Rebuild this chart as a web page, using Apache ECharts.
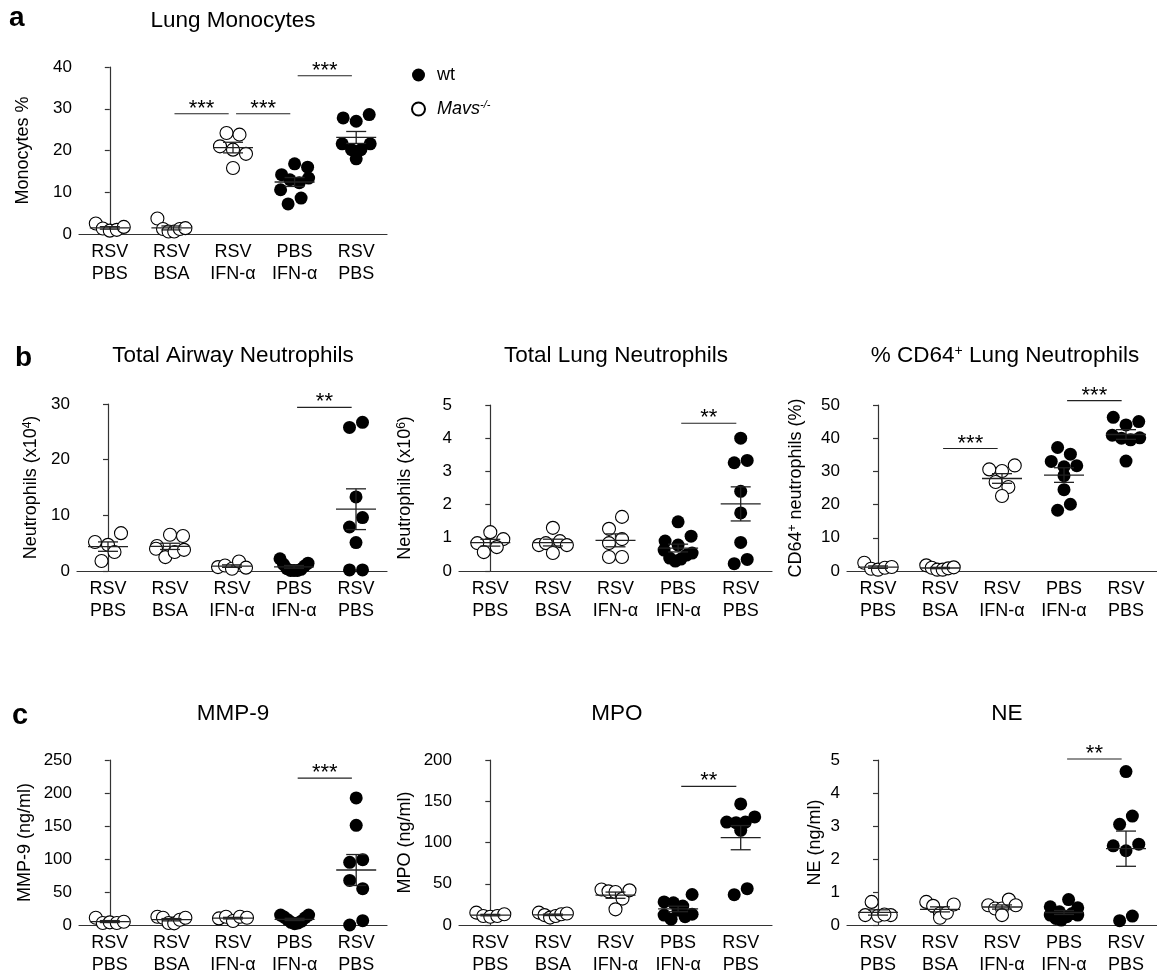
<!DOCTYPE html>
<html>
<head>
<meta charset="utf-8">
<title>Monocytes and neutrophils</title>
<script src="https://cdn.jsdelivr.net/npm/echarts@6/dist/echarts.min.js"></script>
<style>
  html, body { margin: 0; padding: 0; background: #fff; }
  #main { width: 1157px; height: 976px; }
</style>
</head>
<body>
<div id="main"></div>
<script>
// groups on the x axis (same five in every panel)
var categories = ['RSV\nPBS', 'RSV\nBSA', 'RSV\nIFN-α', 'PBS\nIFN-α', 'RSV\nPBS'];
var isWt = [false, false, false, true, true];

// values, one array per group
var lungMonocytes = [
  [2.5, 1.3, 0.8, 1.0, 1.7],
  [3.7, 1.2, 0.6, 0.6, 1.2, 1.4],
  [24.2, 23.8, 21.0, 20.2, 19.2, 15.8],
  [14.2, 16.8, 16.0, 10.6, 13.0, 12.3, 13.4, 7.2, 8.6],
  [27.8, 27.0, 28.6, 21.6, 20.2, 20.2, 21.6, 18.0]
];
var airwayNeutrophils = [
  [5.2, 4.7, 6.8, 1.8, 3.4],
  [4.5, 6.5, 6.3, 4.0, 2.5, 3.4, 3.8],
  [0.7, 1.0, 0.4, 1.7, 0.6],
  [2.2, 1.2, 0.4, 0.1, 0.1, 0.1, 0.3, 0.9, 1.4],
  [25.8, 26.7, 13.3, 7.9, 9.6, 5.1, 0.2, 0.2]
];
var lungNeutrophils = [
  [0.84, 1.17, 0.96, 0.57, 0.72],
  [1.3, 0.78, 0.84, 0.54, 0.9, 0.78],
  [1.27, 1.63, 0.84, 0.96, 0.42, 0.42],
  [1.48, 0.9, 0.78, 1.05, 0.63, 0.39, 0.3, 0.36, 0.48, 0.54],
  [4.0, 3.26, 3.33, 2.4, 1.75, 0.86, 0.22, 0.35]
];
var cd64Neutrophils = [
  [2.5, 0.7, 0.4, 1.0, 1.2],
  [1.7, 1.0, 0.4, 0.4, 0.8, 1.1],
  [30.6, 30.1, 31.8, 26.8, 25.3, 22.6],
  [37.2, 35.2, 33.0, 31.4, 31.7, 28.7, 24.5, 18.3, 20.1],
  [46.3, 44.0, 45.0, 40.9, 40.0, 39.5, 40.1, 33.1]
];
var mmp9 = [
  [11, 3, 4, 3, 5],
  [12.5, 11, 3, 2.5, 8, 11],
  [10, 12.5, 6, 12.5, 11],
  [15, 12, 8, 4, 2, 3, 6, 11, 15],
  [192.5, 151, 95, 99, 67.5, 55, 0, 6.5]
];
var mpo = [
  [15, 11, 10, 11, 13],
  [15, 12, 9, 11, 13, 14],
  [43, 40.8, 40, 32, 42, 19],
  [28, 27, 23, 37, 12, 7, 18, 10, 13],
  [146.8, 124.8, 124, 124.8, 131, 114.8, 36.8, 44]
];
var ne = [
  [0.7, 0.3, 0.28, 0.3, 0.32],
  [0.7, 0.58, 0.35, 0.22, 0.37, 0.62],
  [0.6, 0.5, 0.5, 0.77, 0.6, 0.3],
  [0.55, 0.4, 0.77, 0.52, 0.3, 0.2, 0.15, 0.25, 0.35, 0.3],
  [4.65, 3.05, 3.3, 2.4, 2.25, 2.45, 0.13, 0.27]
];

// significance bars: [from group, to group, height], and their stars
var monocytesSig = [[1, 2, 28.8], [2, 3, 28.8], [3, 4, 37.9]];
var monocytesStars = ['***', '***', '***'];
var airwaySig = [[3, 4, 29.4]];
var airwayStars = ['**'];
var lungSig = [[3, 4, 4.45]];
var lungStars = ['**'];
var cd64Sig = [[1, 2, 36.9], [3, 4, 51.3]];
var cd64Stars = ['***', '***'];
var mmp9Sig = [[3, 4, 222.5]];
var mmp9Stars = ['***'];
var mpoSig = [[3, 4, 168]];
var mpoStars = ['**'];
var neSig = [[3, 4, 5.03]];
var neStars = ['**'];

var FONT = "'Liberation Sans', Arial, Helvetica, sans-serif";
var axisLine = { color: '#333', width: 1.2 };
var supRich = { sup: { fontSize: 12, verticalAlign: 'top', fontFamily: FONT, color: '#000' } };

var panels = [
  { title: 'Lung Monocytes', tx: 233, ty: 20.5, yName: 'Monocytes %', nameGap: 47, max: 40, step: 10,
    data: lungMonocytes, sig: monocytesSig, stars: monocytesStars, grid: { left: 79, top: 67, width: 308, height: 167 } },
  { title: 'Total Airway Neutrophils', tx: 233, ty: 356, yName: 'Neutrophils (x10{sup|4})', nameGap: 37, max: 30, step: 10,
    data: airwayNeutrophils, sig: airwaySig, stars: airwayStars, grid: { left: 77, top: 404, width: 310, height: 167 } },
  { title: 'Total Lung Neutrophils', tx: 616, ty: 356, yName: 'Neutrophils (x10{sup|6})', nameGap: 45, max: 5, step: 1,
    data: lungNeutrophils, sig: lungSig, stars: lungStars, grid: { left: 459, top: 405, width: 313, height: 166 } },
  { title: '% CD64{sup|+} Lung Neutrophils', tx: 1005, ty: 356, yName: 'CD64{sup|+} neutrophils (%)', nameGap: 42, max: 50, step: 10,
    data: cd64Neutrophils, sig: cd64Sig, stars: cd64Stars, grid: { left: 847, top: 405, width: 316, height: 166 } },
  { title: 'MMP-9', tx: 233, ty: 714, yName: 'MMP-9 (ng/ml)', nameGap: 45, max: 250, step: 50,
    data: mmp9, sig: mmp9Sig, stars: mmp9Stars, grid: { left: 79, top: 760, width: 308, height: 167 } },
  { title: 'MPO', tx: 617, ty: 714, yName: 'MPO (ng/ml)', nameGap: 45, max: 200, step: 50,
    data: mpo, sig: mpoSig, stars: mpoStars, grid: { left: 459, top: 760, width: 313, height: 167 } },
  { title: 'NE', tx: 1007, ty: 714, yName: 'NE (ng/ml)', nameGap: 23, max: 5, step: 1,
    data: ne, sig: neSig, stars: neStars, grid: { left: 847, top: 760, width: 316, height: 167 } }
];

// Prism-like horizontal spreading of dots that sit at similar heights
var DOT = 13, ROW_PX = 13, HALF = 14;
function spread(values, pxPerUnit) {
  var idx = values.map(function (v, i) { return i; });
  idx.sort(function (a, b) { return values[b] - values[a] || a - b; });
  var rows = [];
  idx.forEach(function (i) {
    var row = rows[rows.length - 1];
    if (!row || (values[row[0]] - values[i]) * pxPerUnit > ROW_PX) rows.push([i]);
    else row.push(i);
  });
  var off = [];
  rows.forEach(function (row) {
    var members = row.slice().sort(function (a, b) { return a - b; });
    var n = members.length;
    var step = n > 1 ? Math.min(DOT, 2 * HALF / (n - 1)) : 0;
    members.forEach(function (i, k) { off[i] = (k - (n - 1) / 2) * step; });
  });
  return off;
}

function meanSem(vals) {
  var n = vals.length, s = 0, ss = 0;
  vals.forEach(function (v) { s += v; });
  var m = s / n;
  vals.forEach(function (v) { ss += (v - m) * (v - m); });
  return [m, Math.sqrt(ss / (n - 1)) / Math.sqrt(n)];
}

function renderMean(params, api) {
  var c = api.coord([api.value(0), api.value(1)]);
  var t = api.coord([api.value(0), api.value(1) + api.value(2)]);
  var b = api.coord([api.value(0), api.value(1) - api.value(2)]);
  var st = { stroke: '#222', lineWidth: 1.3 };
  return {
    type: 'group',
    children: [
      { type: 'line', shape: { x1: c[0] - 20, y1: c[1], x2: c[0] + 20, y2: c[1] }, style: st },
      { type: 'line', shape: { x1: c[0], y1: t[1], x2: c[0], y2: b[1] }, style: st },
      { type: 'line', shape: { x1: c[0] - 10, y1: t[1], x2: c[0] + 10, y2: t[1] }, style: st },
      { type: 'line', shape: { x1: c[0] - 10, y1: b[1], x2: c[0] + 10, y2: b[1] }, style: st }
    ]
  };
}

var chart = echarts.init(document.getElementById('main'));

var option = {
  animation: false,
  backgroundColor: '#fff',
  textStyle: { fontFamily: FONT },
  grid: [], xAxis: [], yAxis: [], series: [],
  legend: {
    orient: 'vertical', left: 411, top: 65, padding: 0,
    itemWidth: 27, itemHeight: 13, itemGap: 14, icon: 'circle',
    data: ['wt', 'Mavs-/-'],
    formatter: function (name) { return name === 'wt' ? 'wt' : '{it|Mavs}{sup|-/-}'; },
    textStyle: {
      fontSize: 18, color: '#000', fontFamily: FONT, lineHeight: 20,
      rich: {
        it: { fontSize: 18, fontStyle: 'italic', fontFamily: FONT, color: '#000' },
        sup: { fontSize: 11, fontStyle: 'italic', verticalAlign: 'top', fontFamily: FONT, color: '#000' }
      }
    }
  },
  graphic: [
    { type: 'text', x: 9, y: 18.5, style: { text: 'a', fontSize: 28, fontWeight: 'bold', fontFamily: FONT, fill: '#000', verticalAlign: 'middle' } },
    { type: 'text', x: 15, y: 358, style: { text: 'b', fontSize: 28, fontWeight: 'bold', fontFamily: FONT, fill: '#000', verticalAlign: 'middle' } },
    { type: 'text', x: 12, y: 716, style: { text: 'c', fontSize: 29, fontWeight: 'bold', fontFamily: FONT, fill: '#000', verticalAlign: 'middle' } }
  ]
};

panels.forEach(function (p, k) {
  var bandPx = p.grid.width / 5;
  var pxPerUnit = p.grid.height / p.max;

  option.grid.push(p.grid);
  option.xAxis.push({
    type: 'category', gridIndex: k, data: ['0', '1', '2', '3', '4'], boundaryGap: true,
    axisLine: { lineStyle: axisLine },
    axisTick: { alignWithLabel: true, interval: 0, length: 5, lineStyle: axisLine },
    axisLabel: {
      interval: 0, margin: 7, fontSize: 18, lineHeight: 22, color: '#000', fontFamily: FONT,
      formatter: function (v, i) { return categories[i]; }
    },
    splitLine: { show: false }
  });
  option.xAxis.push({ type: 'value', gridIndex: k, min: -0.5, max: 4.5, show: false });
  option.yAxis.push({
    type: 'value', gridIndex: k, min: 0, max: p.max, interval: p.step,
    name: p.yName, nameLocation: 'middle', nameGap: p.nameGap, nameRotate: 90,
    nameTextStyle: { fontSize: 18, color: '#000', fontFamily: FONT, rich: supRich },
    axisLine: { show: true, lineStyle: axisLine },
    axisTick: { show: true, length: 5, lineStyle: axisLine },
    axisLabel: { fontSize: 17, color: '#000', margin: 7, fontFamily: FONT },
    splitLine: { show: false }
  });

  var wtPts = [], koPts = [];
  p.data.forEach(function (vals, g) {
    var off = spread(vals, pxPerUnit);
    vals.forEach(function (v, i) {
      (isWt[g] ? wtPts : koPts).push([g + off[i] / bandPx, v]);
    });
  });

  option.series.push({
    name: 'Mavs-/-', type: 'scatter', xAxisIndex: 2 * k + 1, yAxisIndex: k,
    symbol: 'circle', symbolSize: 13, data: koPts, z: 2, silent: true,
    itemStyle: { color: '#fff', borderColor: '#000', borderWidth: 1.1, opacity: 1 }
  });
  option.series.push({
    name: 'wt', type: 'scatter', xAxisIndex: 2 * k + 1, yAxisIndex: k,
    symbol: 'circle', symbolSize: 13, data: wtPts, z: 2, silent: true,
    itemStyle: { color: '#000', opacity: 1 }
  });
  option.series.push({
    type: 'custom', xAxisIndex: 2 * k + 1, yAxisIndex: k, z: 5, silent: true,
    data: p.data.map(function (vals, g) { var ms = meanSem(vals); return [g, ms[0], ms[1]]; }),
    renderItem: renderMean
  });
  option.series.push({
    type: 'custom', xAxisIndex: 2 * k + 1, yAxisIndex: k, z: 5, silent: true, clip: false,
    encode: { x: 0, y: 2 },
    data: p.sig,
    renderItem: function (params, api) {
      var a = api.coord([api.value(0) + 0.05, api.value(2)]);
      var b = api.coord([api.value(1) - 0.07, api.value(2)]);
      return {
        type: 'group',
        children: [
          { type: 'line', shape: { x1: a[0], y1: a[1], x2: b[0], y2: b[1] }, style: { stroke: '#222', lineWidth: 1.2 } },
          { type: 'text', x: (a[0] + b[0]) / 2, y: a[1] - 5,
            style: { text: p.stars[params.dataIndex], fontSize: 22, fontFamily: FONT, fill: '#000', align: 'center', verticalAlign: 'middle' } }
        ]
      };
    }
  });

  option.graphic.push({
    type: 'text', x: p.tx, y: p.ty,
    style: {
      text: p.title, fontSize: 22.5, fontFamily: FONT, fill: '#000', align: 'center', verticalAlign: 'middle',
      rich: { sup: { fontSize: 14, verticalAlign: 'top', fontFamily: FONT, fill: '#000' } }
    }
  });
});

chart.setOption(option);
</script>
</body>
</html>
